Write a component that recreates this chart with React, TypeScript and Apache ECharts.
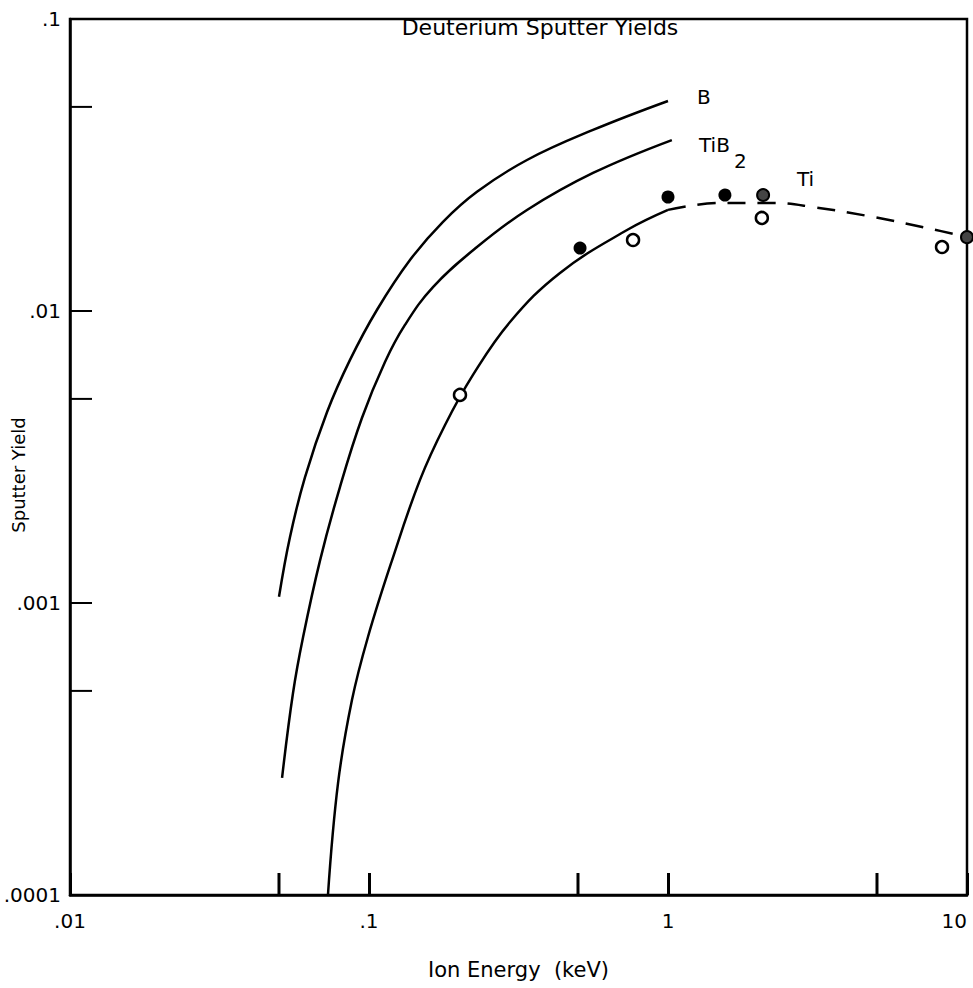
import React, { useEffect, useRef } from "react";
import * as echarts from "echarts";

// Axis ranges (log-log)
const X_MIN = 0.01;
const X_MAX = 10;
const Y_MIN = 0.0001;
const Y_MAX = 0.1;

// Minor ticks (the "5" positions of each decade)
const X_MINOR_TICKS = [0.05, 0.5, 5];
const Y_MINOR_TICKS = [0.0005, 0.005, 0.05];

// Curves: [ion energy keV, sputter yield]
const B_CURVE = [
  [0.05, 0.00105], [0.0544, 0.00168], [0.0611, 0.0027], [0.0724, 0.00451],
  [0.0864, 0.0068], [0.1064, 0.0101], [0.1371, 0.01495], [0.1768, 0.0202],
  [0.2297, 0.0256], [0.3376, 0.0329], [0.5614, 0.0417], [1.0, 0.0524],
];
const TIB2_CURVE = [
  [0.0512, 0.000252], [0.0557, 0.000492], [0.0602, 0.000765], [0.0686, 0.0014],
  [0.08, 0.0025], [0.0947, 0.0043], [0.1131, 0.00669], [0.1319, 0.00896],
  [0.1637, 0.01208], [0.2297, 0.01656], [0.3376, 0.02218], [0.5614, 0.0297],
  [1.03, 0.0385],
];
const TI_SOLID = [
  [0.0729, 0.0001], [0.0788, 0.000242], [0.0877, 0.000465], [0.0992, 0.000765],
  [0.1194, 0.0014], [0.1481, 0.00264], [0.1796, 0.00407], [0.2227, 0.00604],
  [0.2962, 0.00917], [0.4353, 0.0135], [0.7294, 0.01894], [1.0, 0.0222],
];
const TI_DASHED = [
  [1.0, 0.0222], [1.49, 0.02344], [2.245, 0.02344], [3.055, 0.0227],
  [4.85, 0.021], [7.35, 0.01924], [10, 0.01792],
];

// Measured points
const FILLED_POINTS = [[0.508, 0.01643], [1.0, 0.02457], [1.55, 0.02496]];
const HALF_POINTS = [[2.08, 0.02496], [10, 0.0179]];
const OPEN_POINTS = [[0.2015, 0.00516], [0.764, 0.0175], [2.06, 0.02083], [8.25, 0.01656]];

const FONT = "DejaVu Sans";

function fmt(v: number): string {
  const n = Number(v.toPrecision(6));
  let s = String(n);
  if (s.startsWith("0.")) s = s.slice(1);
  return s;
}

export default function App() {
  const ref = useRef<HTMLDivElement>(null);
  useEffect(() => {
    if (!ref.current) return;
    const chart = echarts.init(ref.current, null, { renderer: "svg" });
    const curve = (name: string, data: number[][], dashed = false) => ({
      name,
      type: "line",
      data,
      smooth: 0.4,
      showSymbol: false,
      symbol: "none",
      lineStyle: { color: "#000", width: 2.5, type: dashed ? [18, 12] : "solid" },
      z: 3,
    });
    const option: any = {
      animation: false,
      backgroundColor: "#fff",
      grid: {
        left: 70, right: 6, top: 19, bottom: 93,
        outerBoundsMode: "none",
        containLabel: false,
        show: true, borderColor: "#000", borderWidth: 2.5,
      },
      xAxis: {
        type: "log",
        logBase: 10,
        min: X_MIN,
        max: X_MAX,
        name: "Ion Energy  (keV)",
        nameLocation: "middle",
        nameGap: 64,
        nameTextStyle: { fontFamily: FONT, fontSize: 21, color: "#000" },
        axisLine: { show: true, lineStyle: { color: "#000", width: 2.5 } },
        axisTick: { show: true, inside: true, length: 22, lineStyle: { color: "#000", width: 3 } },
        axisLabel: { formatter: fmt, fontFamily: FONT, fontSize: 20, color: "#000", margin: 16, alignMaxLabel: "right" },
        splitLine: { show: false },
        minorTick: { show: false },
      },
      yAxis: {
        type: "log",
        logBase: 10,
        min: Y_MIN,
        max: Y_MAX,
        axisLine: { show: true, lineStyle: { color: "#000", width: 2.5 } },
        axisTick: { show: true, inside: true, length: 22, lineStyle: { color: "#000", width: 2 } },
        axisLabel: { formatter: fmt, fontFamily: FONT, fontSize: 20, color: "#000", margin: 9 },
        splitLine: { show: false },
        minorTick: { show: false },
      },
      series: [
        {
          type: "custom",
          name: "xMinorTicks",
          data: X_MINOR_TICKS.map((v) => [v, Y_MIN]),
          renderItem: (params: any, api: any) => {
            const p = api.coord([api.value(0), api.value(1)]);
            return {
              type: "line",
              shape: { x1: p[0], y1: p[1], x2: p[0], y2: p[1] - 22 },
              style: { stroke: "#000", lineWidth: 3 },
            };
          },
          z: 2,
        },
        {
          type: "custom",
          name: "yMinorTicks",
          data: Y_MINOR_TICKS.map((v) => [X_MIN, v]),
          renderItem: (params: any, api: any) => {
            const p = api.coord([api.value(0), api.value(1)]);
            return {
              type: "line",
              shape: { x1: p[0], y1: p[1], x2: p[0] + 22, y2: p[1] },
              style: { stroke: "#000", lineWidth: 2 },
            };
          },
          z: 2,
        },
        curve("B", B_CURVE),
        curve("TiB2", TIB2_CURVE),
        curve("Ti", TI_SOLID),
        curve("Ti (extrapolated)", TI_DASHED, true),
        {
          type: "scatter",
          name: "filled",
          data: FILLED_POINTS,
          symbol: "circle",
          symbolSize: 13,
          itemStyle: { color: "#000", opacity: 1 },
          z: 5,
        },
        {
          type: "scatter",
          name: "half",
          data: HALF_POINTS,
          symbol: "circle",
          symbolSize: 12,
          itemStyle: { color: "#444", borderColor: "#000", borderWidth: 2, opacity: 1 },
          z: 5,
        },
        {
          type: "scatter",
          name: "open",
          data: OPEN_POINTS,
          symbol: "circle",
          symbolSize: 12,
          itemStyle: { color: "#fff", borderColor: "#000", borderWidth: 2.5, opacity: 1 },
          z: 5,
        },
      ],
      graphic: [
        {
          type: "text",
          x: 540,
          y: 27,
          style: { text: "Deuterium Sputter Yields", fontFamily: FONT, fontSize: 22, fill: "#000", align: "center", verticalAlign: "middle" },
        },
        {
          type: "text",
          x: 697,
          y: 97,
          style: { text: "B", fontFamily: FONT, fontSize: 20, fill: "#000", align: "left", verticalAlign: "middle" },
        },
        {
          type: "text",
          x: 699,
          y: 145,
          style: { text: "TiB", fontFamily: FONT, fontSize: 20, fill: "#000", align: "left", verticalAlign: "middle" },
        },
        {
          type: "text",
          x: 734,
          y: 161,
          style: { text: "2", fontFamily: FONT, fontSize: 20, fill: "#000", align: "left", verticalAlign: "middle" },
        },
        {
          type: "text",
          x: 797,
          y: 179,
          style: { text: "Ti", fontFamily: FONT, fontSize: 20, fill: "#000", align: "left", verticalAlign: "middle" },
        },
        {
          type: "text",
          x: 18,
          y: 475,
          rotation: Math.PI / 2,
          style: { text: "Sputter Yield", fontFamily: FONT, fontSize: 18, fill: "#000", align: "center", verticalAlign: "middle" },
        },
      ],
    };
    chart.setOption(option);
    return () => chart.dispose();
  }, []);
  return <div ref={ref} style={{ width: 973, height: 988, position: "absolute", left: 0, top: 0 }} />;
}
